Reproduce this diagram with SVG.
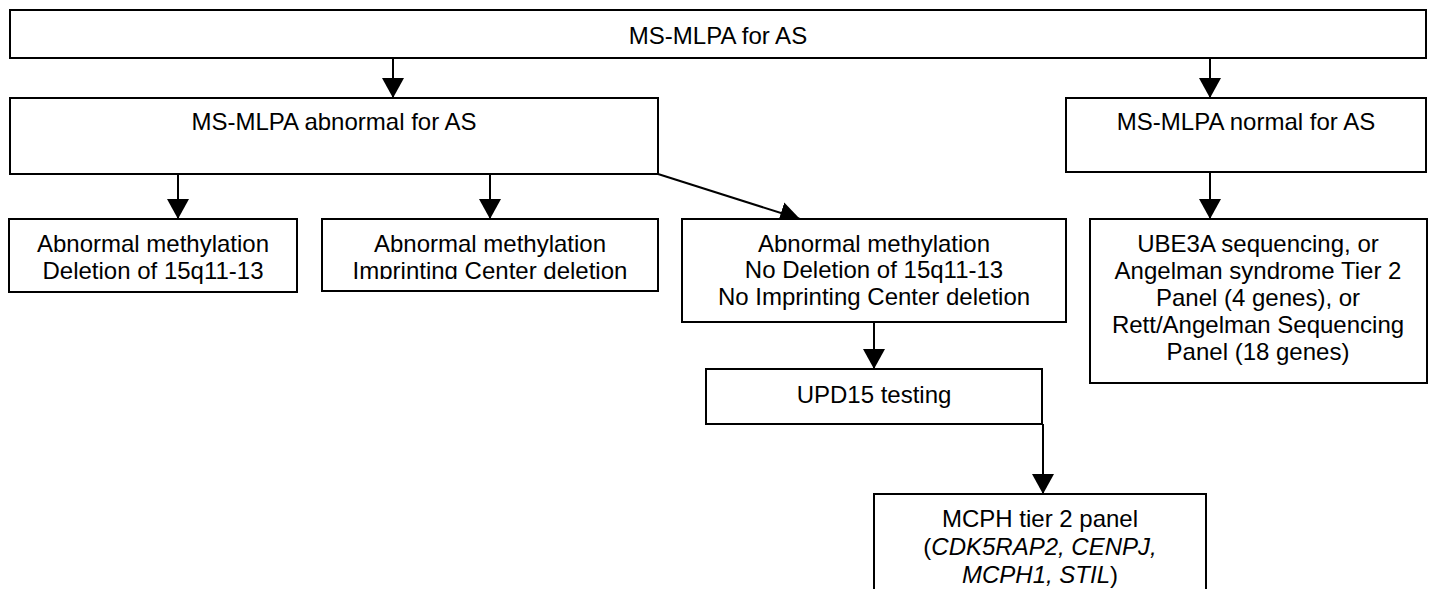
<svg xmlns="http://www.w3.org/2000/svg" width="1431" height="589" viewBox="0 0 1431 589">
  <defs>
    <style>
      .box { fill: #ffffff; stroke: #000000; stroke-width: 2; }
      .lbl { font-family: "Liberation Sans", Arial, sans-serif; font-size: 24px; fill: #000000; text-anchor: middle; }
      .it { font-style: italic; }
      .wire { fill: none; stroke: #000000; stroke-width: 2; marker-end: url(#head); }
    </style>
    <marker id="head" markerUnits="userSpaceOnUse" markerWidth="22" markerHeight="24" viewBox="0 -12 22 24" refX="20" refY="0" orient="auto">
      <path d="M0,-11 L20,0 L0,11 Z" fill="#000000"/>
    </marker>
    <!-- the second line of this box is cut off at the bottom of its text area -->
    <clipPath id="imprintClip">
      <rect x="322" y="219" width="336" height="60"/>
    </clipPath>
  </defs>

  <!-- connectors -->
  <g id="connectors">
    <line class="wire" x1="393" y1="58" x2="393" y2="98"/>
    <line class="wire" x1="1210" y1="58" x2="1210" y2="98"/>
    <line class="wire" x1="178" y1="174" x2="178" y2="219"/>
    <line class="wire" x1="490" y1="174" x2="490" y2="219"/>
    <line class="wire" x1="658" y1="174" x2="800" y2="219"/>
    <line class="wire" x1="1210" y1="172" x2="1210" y2="219"/>
    <line class="wire" x1="874" y1="322" x2="874" y2="369"/>
    <line class="wire" x1="1043" y1="424" x2="1043" y2="494"/>
  </g>

  <g id="ms-mlpa">
    <rect class="box" x="10" y="10" width="1416" height="48"/>
    <text class="lbl" x="718" y="44">MS-MLPA for AS</text>
  </g>

  <g id="abnormal">
    <rect class="box" x="10" y="98" width="648" height="76"/>
    <text class="lbl" x="334" y="130">MS-MLPA abnormal for AS</text>
  </g>

  <g id="normal">
    <rect class="box" x="1066" y="98" width="360" height="74"/>
    <text class="lbl" x="1246" y="130">MS-MLPA normal for AS</text>
  </g>

  <g id="deletion">
    <rect class="box" x="9" y="219" width="288" height="73"/>
    <text class="lbl" x="153" y="252">Abnormal methylation</text>
    <text class="lbl" x="153" y="279">Deletion of 15q11-13</text>
  </g>

  <g id="imprinting">
    <rect class="box" x="322" y="219" width="336" height="72"/>
    <g clip-path="url(#imprintClip)">
      <text class="lbl" x="490" y="252">Abnormal methylation</text>
      <text class="lbl" x="490" y="279">Imprinting Center deletion</text>
    </g>
  </g>

  <g id="no-deletion">
    <rect class="box" x="682" y="219" width="384" height="103"/>
    <text class="lbl" x="874" y="252">Abnormal methylation</text>
    <text class="lbl" x="874" y="278">No Deletion of 15q11-13</text>
    <text class="lbl" x="874" y="305">No Imprinting Center deletion</text>
  </g>

  <g id="ube3a">
    <rect class="box" x="1090" y="219" width="337" height="164"/>
    <text class="lbl" x="1258" y="252">UBE3A sequencing, or</text>
    <text class="lbl" x="1258" y="279">Angelman syndrome Tier 2</text>
    <text class="lbl" x="1258" y="306">Panel (4 genes), or</text>
    <text class="lbl" x="1258" y="333">Rett/Angelman Sequencing</text>
    <text class="lbl" x="1258" y="360">Panel (18 genes)</text>
  </g>

  <g id="upd15">
    <rect class="box" x="706" y="369" width="336" height="55"/>
    <text class="lbl" x="874" y="403">UPD15 testing</text>
  </g>

  <g id="mcph">
    <rect class="box" x="874" y="494" width="332" height="110"/>
    <text class="lbl" x="1040" y="527">MCPH tier 2 panel</text>
    <text class="lbl" x="1040" y="555">(<tspan class="it">CDK5RAP2, CENPJ,</tspan></text>
    <text class="lbl" x="1040" y="583"><tspan class="it">MCPH1, STIL</tspan>)</text>
  </g>
</svg>
